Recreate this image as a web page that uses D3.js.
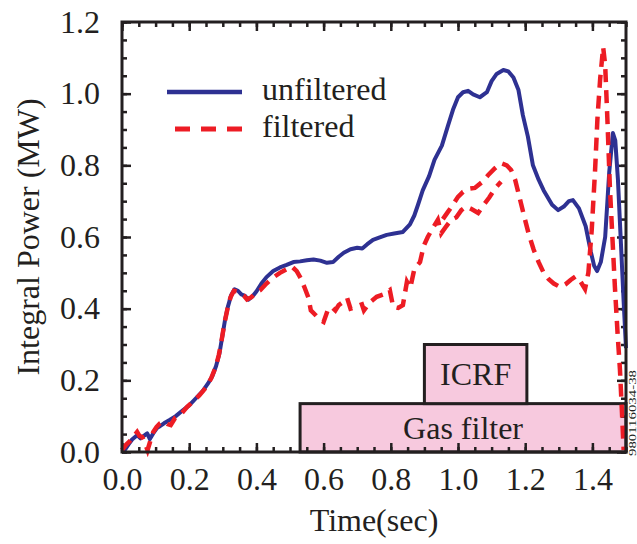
<!DOCTYPE html>
<html>
<head>
<meta charset="utf-8">
<script src="https://cdn.jsdelivr.net/npm/d3@7"></script>
<style>
  body { margin: 0; background: #fff; }
  svg { display: block; }
  text { font-family: "Liberation Serif", "Times New Roman", serif; fill: #231f20; }
</style>
</head>
<body>
<script>
// unfiltered integral power (MW) vs time (sec)
const unfilteredTime = [0.000, 0.010, 0.020, 0.030, 0.045, 0.055, 0.065, 0.075, 0.083, 0.095, 0.105, 0.113, 0.125, 0.143, 0.160, 0.182, 0.200, 0.220, 0.240, 0.255, 0.268, 0.280, 0.290, 0.298, 0.306, 0.315, 0.325, 0.335, 0.345, 0.355, 0.366, 0.376, 0.388, 0.400, 0.415, 0.430, 0.450, 0.470, 0.490, 0.510, 0.530, 0.550, 0.570, 0.590, 0.610, 0.628, 0.645, 0.660, 0.680, 0.700, 0.715, 0.730, 0.747, 0.765, 0.788, 0.810, 0.836, 0.857, 0.870, 0.881, 0.895, 0.914, 0.930, 0.952, 0.970, 0.985, 1.000, 1.015, 1.030, 1.045, 1.065, 1.086, 1.100, 1.115, 1.135, 1.150, 1.165, 1.180, 1.193, 1.208, 1.223, 1.240, 1.255, 1.280, 1.298, 1.315, 1.330, 1.342, 1.360, 1.380, 1.395, 1.405, 1.414, 1.425, 1.438, 1.450, 1.461, 1.468, 1.476, 1.485, 1.493, 1.500];
const unfilteredMW = [0.000, 0.008, 0.022, 0.035, 0.047, 0.038, 0.045, 0.052, 0.036, 0.055, 0.068, 0.072, 0.080, 0.090, 0.100, 0.117, 0.130, 0.150, 0.170, 0.190, 0.210, 0.240, 0.275, 0.320, 0.365, 0.405, 0.438, 0.454, 0.450, 0.440, 0.436, 0.425, 0.434, 0.448, 0.470, 0.488, 0.505, 0.515, 0.522, 0.530, 0.532, 0.535, 0.537, 0.534, 0.528, 0.530, 0.545, 0.556, 0.566, 0.570, 0.568, 0.580, 0.592, 0.598, 0.606, 0.610, 0.614, 0.635, 0.660, 0.690, 0.730, 0.770, 0.815, 0.855, 0.910, 0.955, 0.990, 1.004, 1.008, 0.998, 0.990, 1.004, 1.035, 1.055, 1.066, 1.062, 1.045, 1.010, 0.940, 0.880, 0.800, 0.760, 0.730, 0.690, 0.675, 0.685, 0.700, 0.703, 0.680, 0.630, 0.560, 0.520, 0.505, 0.530, 0.600, 0.780, 0.890, 0.870, 0.760, 0.580, 0.420, 0.290];

// filtered integral power; null splits the trace where it shows two strands
const filteredTime = [0.000, 0.012, 0.025, 0.038, 0.045, 0.052, 0.060, 0.068, 0.076, 0.084, 0.093, 0.103, 0.113, 0.125, 0.135, 0.145, 0.158, 0.175, 0.194, 0.210, 0.230, 0.250, 0.265, 0.278, 0.288, 0.297, 0.305, 0.314, 0.323, 0.333, 0.343, 0.353, 0.363, 0.372, 0.385, 0.400, 0.412, 0.430, 0.450, 0.470, 0.490, 0.505, 0.520, 0.532, 0.545, 0.555, 0.562, 0.575, 0.588, 0.600, 0.612, 0.624, 0.635, 0.645, 0.660, 0.670, 0.680, 0.695, 0.714, 0.720, 0.738, 0.758, 0.778, 0.797, 0.807, 0.822, 0.836, 0.848, 0.858, 0.870, 0.887, 0.898, 0.910, 0.925, 0.940, 0.950, 0.965, 0.980, 0.995, 1.010, 1.024, 1.040, 1.060, 1.077, 1.093, 1.110, 1.128, null, 0.955, 0.970, 0.985, 1.000, 1.015, 1.035, 1.050, 1.070, 1.090, 1.110, 1.128, 1.145, 1.158, 1.170, 1.182, 1.195, 1.210, 1.225, 1.240, 1.255, 1.270, 1.285, 1.305, 1.320, 1.335, 1.350, 1.365, 1.378, 1.388, 1.398, 1.408, 1.415, 1.423, 1.432, 1.438, 1.445, 1.452, 1.460, 1.467, 1.475, 1.482, 1.488, 1.493];
const filteredMW = [0.005, 0.020, 0.032, 0.048, 0.056, 0.045, 0.042, 0.025, 0.005, 0.030, 0.056, 0.070, 0.080, 0.085, 0.078, 0.075, 0.095, 0.105, 0.126, 0.140, 0.158, 0.180, 0.205, 0.235, 0.270, 0.315, 0.360, 0.400, 0.432, 0.450, 0.448, 0.442, 0.436, 0.426, 0.432, 0.446, 0.452, 0.470, 0.487, 0.500, 0.510, 0.518, 0.505, 0.485, 0.455, 0.430, 0.395, 0.383, 0.370, 0.363, 0.395, 0.405, 0.395, 0.410, 0.420, 0.430, 0.400, 0.405, 0.412, 0.395, 0.418, 0.433, 0.440, 0.452, 0.405, 0.402, 0.410, 0.475, 0.458, 0.510, 0.530, 0.575, 0.600, 0.625, 0.648, 0.610, 0.630, 0.648, 0.655, 0.675, 0.685, 0.678, 0.667, 0.690, 0.710, 0.735, 0.754, null, 0.650, 0.670, 0.690, 0.712, 0.726, 0.735, 0.737, 0.752, 0.773, 0.792, 0.806, 0.800, 0.787, 0.760, 0.715, 0.665, 0.610, 0.565, 0.530, 0.500, 0.482, 0.470, 0.460, 0.468, 0.480, 0.490, 0.475, 0.455, 0.500, 0.620, 0.787, 0.930, 1.040, 1.130, 1.080, 0.920, 0.740, 0.590, 0.460, 0.330, 0.230, 0.110, 0.005];

// shaded periods, in data units
const periodNames = ['Gas filter', 'ICRF'];
const periodStart = [0.53, 0.90];
const periodEnd = [1.50, 1.205];
const periodLow = [0.0, 0.135];
const periodHigh = [0.135, 0.30];

const xMajor = [0.0, 0.2, 0.4, 0.6, 0.8, 1.0, 1.2, 1.4];
const yMajor = [0.0, 0.2, 0.4, 0.6, 0.8, 1.0, 1.2];
const minorStep = 0.05;

const seriesNames = ['unfiltered', 'filtered'];
const seriesColors = ['#2e3192', '#ed1c24'];

const width = 637;
const height = 544;
const margin = { top: 22, right: 11, bottom: 92, left: 122 };

const x = d3.scaleLinear().domain([0, 1.5]).range([margin.left, width - margin.right]);
const y = d3.scaleLinear().domain([0, 1.2]).range([height - margin.bottom, margin.top]);

const svg = d3.select('body').append('svg')
  .attr('width', width)
  .attr('height', height);

const plotBottom = y(0);
const plotTop = y(1.2);
const plotLeft = x(0);
const plotRight = x(1.5);

// boxes for the heating periods
const boxes = svg.append('g');
periodNames.forEach((name, i) => {
  boxes.append('rect')
    .attr('x', x(periodStart[i]))
    .attr('y', y(periodHigh[i]))
    .attr('width', x(periodEnd[i]) - x(periodStart[i]))
    .attr('height', y(periodLow[i]) - y(periodHigh[i]))
    .attr('fill', '#f7c9de')
    .attr('stroke', '#231f20')
    .attr('stroke-width', 3);
  boxes.append('text')
    .attr('x', (x(periodStart[i]) + x(periodEnd[i])) / 2)
    .attr('y', (y(periodLow[i]) + y(periodHigh[i])) / 2 + 11)
    .attr('text-anchor', 'middle')
    .attr('font-size', 32)
    .text(name);
});

// ticks point inward on all four sides: minor every 0.05, major every 0.2
const xMinor = d3.range(0, 1.5001, minorStep);
const yMinor = d3.range(0, 1.2001, minorStep);

const axes = svg.append('g');

axes.append('g').attr('transform', `translate(0,${plotBottom})`)
  .call(d3.axisBottom(x).tickValues(xMinor).tickSize(-5).tickFormat(''));
axes.append('g').attr('transform', `translate(0,${plotTop})`)
  .call(d3.axisTop(x).tickValues(xMinor).tickSize(-5).tickFormat(''));
axes.append('g').attr('transform', `translate(${plotLeft},0)`)
  .call(d3.axisLeft(y).tickValues(yMinor).tickSize(-5).tickFormat(''));
axes.append('g').attr('transform', `translate(${plotRight},0)`)
  .call(d3.axisRight(y).tickValues(yMinor).tickSize(-5).tickFormat(''));

axes.append('g').attr('transform', `translate(0,${plotBottom})`)
  .call(d3.axisBottom(x).tickValues(xMajor).tickSize(-9).tickPadding(15).tickFormat(d3.format('.1f')));
axes.append('g').attr('transform', `translate(0,${plotTop})`)
  .call(d3.axisTop(x).tickValues(xMajor).tickSize(-9).tickFormat(''));
axes.append('g').attr('transform', `translate(${plotLeft},0)`)
  .call(d3.axisLeft(y).tickValues(yMajor).tickSize(-9).tickPadding(22).tickFormat(d3.format('.1f')));
axes.append('g').attr('transform', `translate(${plotRight},0)`)
  .call(d3.axisRight(y).tickValues(yMajor).tickSize(-9).tickFormat(''));

axes.selectAll('.domain').remove();
axes.selectAll('.tick line').attr('stroke', '#231f20').attr('stroke-width', 2.5);
axes.selectAll('.tick text')
  .attr('font-family', '"Liberation Serif", "Times New Roman", serif')
  .attr('font-size', 32)
  .attr('fill', '#231f20');

// curves
const line = d3.line()
  .defined(d => d[0] !== null)
  .x(d => x(d[0]))
  .y(d => y(d[1]));

const unfiltered = unfilteredTime.map((t, i) => [t, unfilteredMW[i]]);
const filtered = filteredTime.map((t, i) => [t, filteredMW[i]]);

svg.append('path')
  .datum(unfiltered)
  .attr('d', line)
  .attr('fill', 'none')
  .attr('stroke', seriesColors[0])
  .attr('stroke-width', 4)
  .attr('stroke-linejoin', 'round');

svg.append('path')
  .datum(filtered)
  .attr('d', line)
  .attr('fill', 'none')
  .attr('stroke', seriesColors[1])
  .attr('stroke-width', 4.5)
  .attr('stroke-dasharray', '13,8');

// frame
svg.append('rect')
  .attr('x', plotLeft)
  .attr('y', plotTop)
  .attr('width', plotRight - plotLeft)
  .attr('height', plotBottom - plotTop)
  .attr('fill', 'none')
  .attr('stroke', '#231f20')
  .attr('stroke-width', 3);

// legend
const legend = svg.append('g');
seriesNames.forEach((name, i) => {
  const ly = 92 + i * 37;
  legend.append('line')
    .attr('x1', i === 0 ? 167 : 175)
    .attr('x2', 242)
    .attr('y1', ly)
    .attr('y2', ly)
    .attr('stroke', seriesColors[i])
    .attr('stroke-width', i === 0 ? 4.5 : 5)
    .attr('stroke-dasharray', i === 0 ? null : '15,11');
  legend.append('text')
    .attr('x', 262)
    .attr('y', ly + 8)
    .attr('font-size', 32)
    .text(name);
});

// axis titles
svg.append('text')
  .attr('x', (plotLeft + plotRight) / 2)
  .attr('y', 531)
  .attr('text-anchor', 'middle')
  .attr('font-size', 32)
  .text('Time(sec)');

svg.append('text')
  .attr('transform', `translate(39,${(plotTop + plotBottom) / 2}) rotate(-90)`)
  .attr('text-anchor', 'middle')
  .attr('font-size', 32)
  .text('Integral Power (MW)');

// figure id along the right edge
svg.append('text')
  .attr('transform', 'translate(636,413) rotate(-90)')
  .attr('text-anchor', 'middle')
  .attr('font-size', 11)
  .attr('textLength', 86)
  .attr('lengthAdjust', 'spacingAndGlyphs')
  .attr('fill', '#555')
  .text('980116034-38');
</script>
</body>
</html>
